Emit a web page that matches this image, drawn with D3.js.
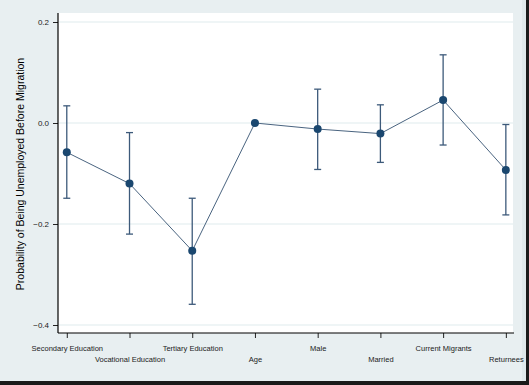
<!DOCTYPE html>
<html><head><meta charset="utf-8">
<script src="https://cdn.jsdelivr.net/npm/d3@7"></script>
<style>
html,body{margin:0;padding:0;background:#e8eff1;}
svg{display:block;font-family:"Liberation Sans",Arial,sans-serif;}
</style></head>
<body>
<svg id="chart" width="529" height="385"></svg>
<script>
const categories = ["Secondary Education","Vocational Education","Tertiary Education","Age","Male","Married","Current Migrants","Returnees"];
const estimates = [-0.058,-0.120,-0.253,0.0,-0.012,-0.021,0.0455,-0.093];
const ciLower   = [-0.149,-0.220,-0.359,-0.0005,-0.092,-0.078,-0.0436,-0.182];
const ciUpper   = [0.034,-0.019,-0.149,0.0005,0.067,0.036,0.135,-0.003];
const yTicks = [-0.4,-0.2,0.0,0.2];
const yTitle = "Probability of Being Unemployed Before Migration";

const svg = d3.select("#chart");
const W = 529, H = 385;
const navy = "#1a476f";

svg.append("rect").attr("width",W).attr("height",H).attr("fill","#e8eff1");
svg.append("rect").attr("x",0).attr("y",381).attr("width",W).attr("height",4).attr("fill","#1a1a1a");
svg.append("rect").attr("x",526).attr("y",0).attr("width",3).attr("height",H).attr("fill","#1a1a1a");
svg.append("rect").attr("x",522).attr("y",0).attr("width",4).attr("height",381).attr("fill","#dfe8ea");

const x = d3.scaleLinear().domain([0.86,8.13]).range([58,514]);
const y = d3.scaleLinear().domain([-0.4,0.2]).range([325,22]);

svg.append("rect").attr("x",58).attr("y",13).attr("width",455).attr("height",320).attr("fill","#ffffff");

svg.append("g").selectAll("line").data(yTicks).join("line")
  .attr("x1",59).attr("x2",513)
  .attr("y1",d=>y(d)).attr("y2",d=>y(d))
  .attr("stroke","#eaf2f3").attr("stroke-width",1.5);

const yAxis = d3.axisLeft(y).tickValues(yTicks).tickFormat(d3.format(".1f")).tickSize(5).tickPadding(4);
const gy = svg.append("g").attr("transform","translate(58,0)").call(yAxis);
gy.select(".domain").remove();
gy.append("line").attr("x1",0).attr("x2",0).attr("y1",13).attr("y2",333).attr("stroke","#000").attr("stroke-width",1.2);
gy.selectAll(".tick line").attr("stroke","#222");
gy.selectAll(".tick text").attr("font-size","8px").attr("fill","#222")
  .attr("font-family","'Liberation Sans',Arial,sans-serif");

const idx = categories.map((c,i)=>i+1);
const xAxis = d3.axisBottom(x).tickValues(idx).tickFormat(d=>categories[d-1]).tickSize(5).tickPadding(0);
const gx = svg.append("g").attr("transform","translate(0,333)").call(xAxis);
gx.select(".domain").remove();
gx.append("line").attr("x1",58).attr("x2",514).attr("y1",0).attr("y2",0).attr("stroke","#000").attr("stroke-width",1.2);
gx.selectAll(".tick line").attr("stroke","#222");
gx.selectAll(".tick text").attr("font-size","8px").attr("fill","#222")
  .attr("font-family","'Liberation Sans',Arial,sans-serif")
  .attr("textLength",function(){ return this.getComputedTextLength()*0.94; })
  .attr("lengthAdjust","spacingAndGlyphs")
  .attr("y",(d,i)=> i%2===0 ? 12 : 23)
  .attr("dy","0.71em");

svg.append("text")
  .attr("transform","translate(24,174) rotate(-90)")
  .attr("text-anchor","middle")
  .attr("font-size","10.5px").attr("fill","#000")
  .text(yTitle);

const data = categories.map((c,i)=>({i:i+1,est:estimates[i],lo:ciLower[i],hi:ciUpper[i]}));

const eb = svg.append("g");
eb.selectAll("line.v").data(data).join("line").attr("class","v")
  .attr("x1",d=>x(d.i)).attr("x2",d=>x(d.i))
  .attr("y1",d=>y(d.lo)).attr("y2",d=>y(d.hi))
  .attr("stroke","#3d5a7a").attr("stroke-width",1.3);
["lo","hi"].forEach(k=>{
  eb.selectAll("line.c"+k).data(data).join("line").attr("class","c"+k)
    .attr("x1",d=>x(d.i)-3.5).attr("x2",d=>x(d.i)+3.5)
    .attr("y1",d=>y(d[k])).attr("y2",d=>y(d[k]))
    .attr("stroke","#3d5a7a").attr("stroke-width",1.3);
});

svg.append("path").datum(data)
  .attr("d",d3.line().x(d=>x(d.i)).y(d=>y(d.est)))
  .attr("fill","none").attr("stroke","#4a6480").attr("stroke-width",1);

svg.append("g").selectAll("circle").data(data).join("circle")
  .attr("cx",d=>x(d.i)).attr("cy",d=>y(d.est)).attr("r",4)
  .attr("fill",navy);
</script>
</body></html>
